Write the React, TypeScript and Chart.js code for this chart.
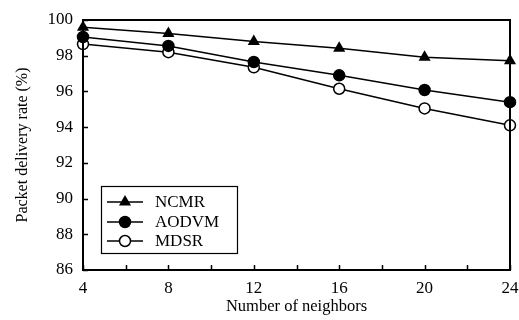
import React, { useEffect, useRef } from "react";
import { Chart, registerables } from "chart.js";

Chart.register(...registerables);

const neighbors = [4, 8, 12, 16, 20, 24];
const ncmr = [99.6, 99.25, 98.8, 98.42, 97.92, 97.72];
const aodvm = [99.05, 98.55, 97.65, 96.9, 96.08, 95.4];
const mdsr = [98.65, 98.2, 97.35, 96.15, 95.05, 94.1];
const seriesNames = ["NCMR", "AODVM", "MDSR"];
const yTicks = [86, 88, 90, 92, 94, 96, 98, 100];
const xLabelTicks = [4, 8, 12, 16, 20, 24];
const xMinorTicks = [6, 10, 14, 18, 22];

const FONT = "'Liberation Serif', 'Times New Roman', serif";

const framePlugin = {
  id: "frame",
  afterDatasetsDraw(chart: any) {
    const { ctx, chartArea } = chart;
    const xs = chart.scales.x;
    const ys = chart.scales.y;
    ctx.save();
    ctx.strokeStyle = "#000";
    ctx.lineWidth = 1.5;
    const tl = 5;
    ctx.beginPath();
    [...xLabelTicks, ...xMinorTicks].forEach((v) => {
      const px = Math.round(xs.getPixelForValue(v)) + 0.5;
      ctx.moveTo(px, chartArea.bottom);
      ctx.lineTo(px, chartArea.bottom - tl);
    });
    yTicks.forEach((v) => {
      const py = Math.round(ys.getPixelForValue(v)) + 0.5;
      ctx.moveTo(chartArea.left, py);
      ctx.lineTo(chartArea.left + tl, py);
    });
    ctx.stroke();
    ctx.lineWidth = 2;
    ctx.strokeRect(chartArea.left, chartArea.top, chartArea.right - chartArea.left, chartArea.bottom - chartArea.top);

    // legend
    const bx = chartArea.left + 18;
    const by = chartArea.bottom - 84;
    const bw = 136;
    const bh = 67;
    ctx.fillStyle = "#fff";
    ctx.fillRect(bx, by, bw, bh);
    ctx.lineWidth = 1.2;
    ctx.strokeRect(bx + 0.5, by + 0.5, bw, bh);
    const rows = [16, 36, 55];
    chart.data.datasets.forEach((ds: any, i: number) => {
      const y = by + rows[i];
      ctx.strokeStyle = "#000";
      ctx.lineWidth = 1.5;
      ctx.beginPath();
      ctx.moveTo(bx + 6, y);
      ctx.lineTo(bx + 42, y);
      ctx.stroke();
      const cx = bx + 24;
      ctx.fillStyle = ds.pointBackgroundColor;
      ctx.beginPath();
      if (ds.pointStyle === "triangle") {
        const r = 7;
        ctx.moveTo(cx, y - r);
        ctx.lineTo(cx + r * 0.866, y + r * 0.5);
        ctx.lineTo(cx - r * 0.866, y + r * 0.5);
        ctx.closePath();
        ctx.fill();
      } else {
        ctx.arc(cx, y, 5.5, 0, Math.PI * 2);
        ctx.fill();
        ctx.stroke();
      }
      ctx.fillStyle = "#000";
      ctx.font = `17px ${FONT}`;
      ctx.textBaseline = "middle";
      ctx.textAlign = "left";
      ctx.fillText(seriesNames[i], bx + 54, y + 1);
    });
    ctx.restore();
  },
};

export default function App() {
  const ref = useRef<HTMLCanvasElement>(null);
  useEffect(() => {
    const common = {
      borderColor: "#000",
      borderWidth: 1.5,
      pointBorderColor: "#000",
      pointBorderWidth: 1.5,
      tension: 0,
      fill: false,
    };
    const chart = new Chart(ref.current as HTMLCanvasElement, {
      type: "line",
      data: {
        datasets: [
          {
            ...common,
            label: seriesNames[0],
            data: neighbors.map((x, i) => ({ x, y: ncmr[i] })),
            pointStyle: "triangle",
            pointRadius: 7,
            pointBackgroundColor: "#000",
            pointBorderWidth: 0,
          },
          {
            ...common,
            label: seriesNames[1],
            data: neighbors.map((x, i) => ({ x, y: aodvm[i] })),
            pointStyle: "circle",
            pointRadius: 5.5,
            pointBackgroundColor: "#000",
          },
          {
            ...common,
            label: seriesNames[2],
            data: neighbors.map((x, i) => ({ x, y: mdsr[i] })),
            pointStyle: "circle",
            pointRadius: 5.5,
            pointBackgroundColor: "#fff",
          },
        ],
      },
      options: {
        animation: false,
        responsive: false,
        maintainAspectRatio: false,
        clip: false,
        layout: { padding: { top: 20, right: 9, left: 0, bottom: 0 } },
        plugins: { legend: { display: false }, tooltip: { enabled: false } },
        scales: {
          x: {
            type: "linear",
            min: 4,
            max: 24,
            afterBuildTicks: (s: any) => {
              s.ticks = xLabelTicks.map((v) => ({ value: v }));
            },
            afterFit: (s: any) => {
              s.height = 50;
              s.paddingLeft = 0;
              s.paddingRight = 0;
            },
            grid: { display: false, drawTicks: false },
            border: { display: false },
            ticks: {
              padding: 8,
              color: "#000",
              font: { family: FONT, size: 17 },
              maxRotation: 0,
            },
            title: {
              display: true,
              text: "Number of neighbors",
              color: "#000",
              font: { family: FONT, size: 16.5 },
              padding: { top: 0, bottom: 3 },
            },
          },
          y: {
            min: 86,
            max: 100,
            afterBuildTicks: (s: any) => {
              s.ticks = yTicks.map((v) => ({ value: v }));
            },
            afterFit: (s: any) => {
              s.width = 83;
              s.paddingTop = 0;
              s.paddingBottom = 0;
            },
            grid: { display: false, drawTicks: false },
            border: { display: false },
            ticks: {
              padding: 10,
              color: "#000",
              font: { family: FONT, size: 17 },
            },
            title: {
              display: true,
              text: "Packet delivery rate (%)",
              color: "#000",
              font: { family: FONT, size: 16 },
              padding: { top: 13, bottom: 0 },
            },
          },
        },
      },
      plugins: [framePlugin],
    } as any);
    return () => chart.destroy();
  }, []);
  return (
    <div style={{ position: "fixed", left: 0, top: 0, width: 519, height: 320, background: "#fff" }}>
      <canvas ref={ref} width={519} height={320} style={{ width: 519, height: 320, display: "block" }} />
    </div>
  );
}
